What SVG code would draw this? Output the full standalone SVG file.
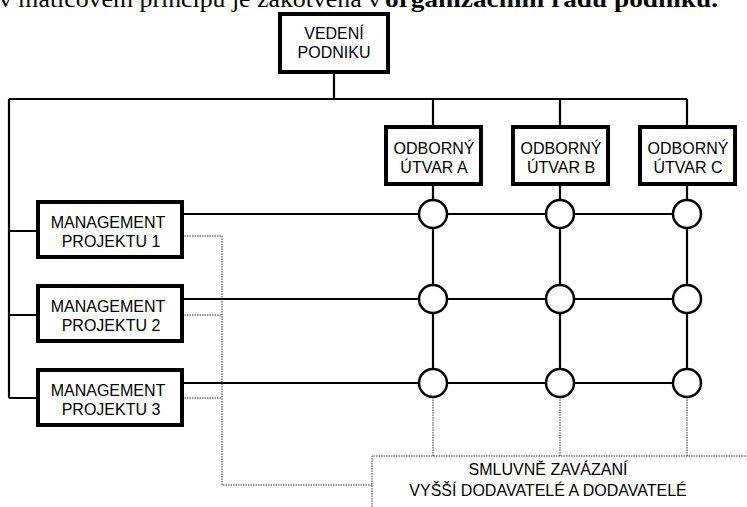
<svg xmlns="http://www.w3.org/2000/svg" width="747" height="507" viewBox="0 0 747 507">
<style>
.box{fill:#fff;stroke:#000;stroke-width:4}
.t{font-family:"Liberation Sans",Arial,sans-serif;font-size:16px;fill:#000;text-anchor:middle}
.ln{stroke:#000;stroke-width:2.2;fill:none}
.dot{stroke:#333;stroke-width:1;stroke-dasharray:1.5 1;fill:none}
.c{fill:#fff;stroke:#000;stroke-width:2.5}
.hd{font-family:"Liberation Serif","Times New Roman",serif;font-size:24px;fill:#000}
</style>
<rect width="747" height="507" fill="#fff"/>
<text class="hd" x="-1" y="7" textLength="382" lengthAdjust="spacingAndGlyphs">v maticovém principu je zakotvena v</text>
<text class="hd" x="385" y="7" font-weight="bold" textLength="333" lengthAdjust="spacingAndGlyphs">organizačním řádu podniku.</text>
<g id="connectors">
<path class="ln" d="M334 73V99M9 99H687M433 99V126M560 99V126M687 99V126M433 185V383M560 185V383M687 185V383M9 99V398M9 231H37M9 315H37M9 398H37M182 214H687M182 299H687M182 383H687"/>
<path class="dot" d="M182 236H222M182 315H222M182 398H222M222 236V485H372M433 397V456M560 397V456M687 397V456"/>
</g>
<g id="vedeni"><rect class="box" x="280" y="14" width="108" height="58"/><text class="t" x="334" y="39">VEDENÍ</text><text class="t" x="334" y="58">PODNIKU</text></g>
<g id="utvarA"><rect class="box" x="386" y="127" width="95" height="57"/><text class="t" x="434" y="153.5">ODBORNÝ</text><text class="t" x="434" y="173">ÚTVAR  A</text></g>
<g id="utvarB"><rect class="box" x="513" y="127" width="95" height="57"/><text class="t" x="561" y="153.5">ODBORNÝ</text><text class="t" x="561" y="173">ÚTVAR  B</text></g>
<g id="utvarC"><rect class="box" x="640" y="127" width="95" height="57"/><text class="t" x="688" y="153.5">ODBORNÝ</text><text class="t" x="688" y="173">ÚTVAR  C</text></g>
<g id="projekt1"><rect class="box" x="38" y="202" width="144" height="55"/><text class="t" x="108" y="228">MANAGEMENT</text><text class="t" x="111" y="247">PROJEKTU  1</text></g>
<g id="projekt2"><rect class="box" x="38" y="286" width="144" height="55"/><text class="t" x="108" y="312">MANAGEMENT</text><text class="t" x="111" y="331">PROJEKTU  2</text></g>
<g id="projekt3"><rect class="box" x="38" y="370" width="144" height="55"/><text class="t" x="108" y="396">MANAGEMENT</text><text class="t" x="111" y="415">PROJEKTU  3</text></g>
<g id="junctions">
<circle class="c" cx="433" cy="214" r="14"/><circle class="c" cx="560" cy="214" r="14"/><circle class="c" cx="687" cy="214" r="14"/>
<circle class="c" cx="433" cy="299" r="14"/><circle class="c" cx="560" cy="299" r="14"/><circle class="c" cx="687" cy="299" r="14"/>
<circle class="c" cx="433" cy="383" r="14"/><circle class="c" cx="560" cy="383" r="14"/><circle class="c" cx="687" cy="383" r="14"/>
</g>
<g id="dodavatele"><path class="dot" d="M372 507V456H747"/><text class="t" x="548" y="475">SMLUVNĚ  ZAVÁZANÍ</text><text class="t" x="548" y="496">VYŠŠÍ  DODAVATELÉ  A  DODAVATELÉ</text></g>
</svg>
